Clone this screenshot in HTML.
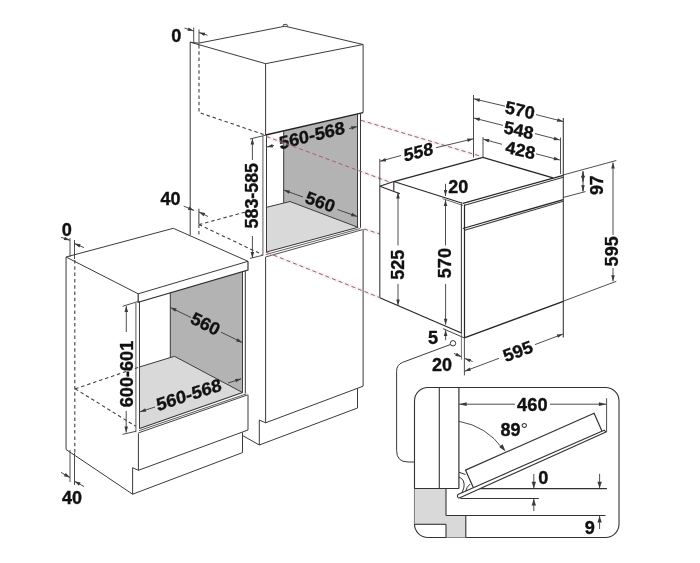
<!DOCTYPE html>
<html lang="en">
<head>
<meta charset="utf-8">
<title>Oven installation dimensions</title>
<style>
html,body{margin:0;padding:0;background:#fff;}
body{width:700px;height:563px;overflow:hidden;}
svg{display:block;will-change:transform;}
svg text{font-family:"Liberation Sans","DejaVu Sans",sans-serif;font-weight:bold;fill:#111;stroke:#111;stroke-width:0.35px;}
</style>
</head>
<body>
<svg width="700" height="563" viewBox="0 0 700 563">
<rect x="0" y="0" width="700" height="563" fill="#ffffff"/>
<path d="M283.7 131 L357.5 114 L357.5 227.1 L290 201.5 L283.7 203 Z" fill="#b3b3b3" stroke="none" stroke-width="1" />
<path d="M266.5 207.3 L290 201.5 L357.5 227.1 L358.2 227.3 L266.5 252 Z" fill="#d9d9d9" stroke="none" stroke-width="1" />
<path d="M190.2 42.2 L198.6 43.2 L285 26.2 L363.1 44.5" fill="none" stroke="#3a3a3a" stroke-width="1" />
<path d="M190.2 42.2 L265.6 63.7 L363.1 44.5" fill="none" stroke="#3a3a3a" stroke-width="1" />
<path d="M283 26 L283.4 24.6 L286.8 24.3 L287.6 26.4" fill="none" stroke="#3a3a3a" stroke-width="0.9"/>
<line x1="190.2" y1="42.2" x2="190.2" y2="235" stroke="#3a3a3a" stroke-width="1" />
<line x1="265.6" y1="63.7" x2="265.6" y2="135" stroke="#3a3a3a" stroke-width="1" />
<line x1="363.1" y1="44.5" x2="363.1" y2="112.6" stroke="#3a3a3a" stroke-width="1" />
<line x1="265.6" y1="135" x2="363.1" y2="112.6" stroke="#222" stroke-width="1.3" />
<line x1="262.9" y1="136" x2="262.9" y2="255.6" stroke="#777" stroke-width="1.2" />
<line x1="266.5" y1="135" x2="266.5" y2="252.5" stroke="#3a3a3a" stroke-width="1" />
<line x1="283.7" y1="131" x2="283.7" y2="203" stroke="#3a3a3a" stroke-width="1" />
<line x1="357.5" y1="114" x2="357.5" y2="227.1" stroke="#3a3a3a" stroke-width="1" />
<line x1="360.5" y1="113.2" x2="360.5" y2="227.7" stroke="#3a3a3a" stroke-width="1" />
<line x1="290" y1="201.5" x2="357.5" y2="227.1" stroke="#3a3a3a" stroke-width="1" />
<line x1="266.5" y1="207.3" x2="290" y2="201.5" stroke="#3a3a3a" stroke-width="1" />
<line x1="266.5" y1="252.0" x2="358.2" y2="227.3" stroke="#333" stroke-width="1.0" />
<line x1="266" y1="254.5" x2="360.3" y2="228.5" stroke="#444" stroke-width="0.85" />
<line x1="265.5" y1="257.0" x2="362.4" y2="229.7" stroke="#3a3a3a" stroke-width="0.9" />
<line x1="265.6" y1="257.1" x2="265.6" y2="422.8" stroke="#3a3a3a" stroke-width="1" />
<line x1="363.1" y1="229" x2="363.1" y2="386.2" stroke="#3a3a3a" stroke-width="1" />
<line x1="265.6" y1="422.8" x2="363.1" y2="386.2" stroke="#3a3a3a" stroke-width="1" />
<path d="M259.3 420 L265.6 422.8" fill="none" stroke="#3a3a3a" stroke-width="1" />
<path d="M259.3 420 L259.3 445 L357.5 408 L357.5 388.4" fill="none" stroke="#3a3a3a" stroke-width="1" />
<line x1="242.5" y1="435.5" x2="259.3" y2="445" stroke="#3a3a3a" stroke-width="1" />
<path d="M199 45 L199 112.5 L264 134.6" fill="none" stroke="#404040" stroke-width="1.1" stroke-dasharray="3.5 2.8"/>
<path d="M198.9 224.6 L198.9 235.5" fill="none" stroke="#404040" stroke-width="1.1" stroke-dasharray="3.5 2.8"/>
<path d="M199 224.6 L250 210.8" fill="none" stroke="#404040" stroke-width="1.1" stroke-dasharray="3.5 2.8"/>
<path d="M199 224.6 L262 254.5" fill="none" stroke="#404040" stroke-width="1.1" stroke-dasharray="3.5 2.8"/>
<line x1="193.7" y1="27.5" x2="193.7" y2="42.5" stroke="#3a3a3a" stroke-width="0.9" />
<line x1="199" y1="29.5" x2="199" y2="43.5" stroke="#3a3a3a" stroke-width="0.9" />
<line x1="184.5" y1="28" x2="193.7" y2="31" stroke="#3a3a3a" stroke-width="0.9" />
<path d="M193.7 31 L187.44 30.85 L188.55 27.43 Z" fill="#3a3a3a" stroke="none"/>
<line x1="207.5" y1="35.2" x2="199" y2="32.6" stroke="#3a3a3a" stroke-width="0.9" />
<path d="M199 32.6 L205.26 32.63 L204.21 36.08 Z" fill="#3a3a3a" stroke="none"/>
<text transform="translate(176.3 35.5)" x="0" y="6.3" font-size="17.6" text-anchor="middle" textLength="10.1" lengthAdjust="spacingAndGlyphs" >0</text>
<line x1="198.9" y1="208.7" x2="198.9" y2="224" stroke="#3a3a3a" stroke-width="1" />
<line x1="183.7" y1="206.1" x2="194" y2="210.4" stroke="#3a3a3a" stroke-width="0.9" />
<path d="M194 210.4 L187.77 209.75 L189.16 206.43 Z" fill="#3a3a3a" stroke="none"/>
<line x1="208" y1="216.5" x2="199" y2="212" stroke="#3a3a3a" stroke-width="0.9" />
<path d="M199 212 L205.17 213.07 L203.56 216.29 Z" fill="#3a3a3a" stroke="none"/>
<text transform="translate(170.4 198.6)" x="0" y="6.3" font-size="17.6" text-anchor="middle" textLength="20" lengthAdjust="spacingAndGlyphs" >40</text>
<line x1="249.9" y1="139" x2="265.6" y2="135.2" stroke="#3a3a3a" stroke-width="0.9" />
<line x1="250" y1="258.4" x2="263" y2="255.2" stroke="#3a3a3a" stroke-width="0.9" />
<line x1="252.4" y1="160" x2="252.4" y2="138.5" stroke="#3a3a3a" stroke-width="0.9" />
<path d="M252.4 138.5 L254.2 144.5 L250.6 144.5 Z" fill="#3a3a3a" stroke="none"/>
<line x1="252.4" y1="236" x2="252.4" y2="258" stroke="#3a3a3a" stroke-width="0.9" />
<path d="M252.4 258 L250.6 252.0 L254.2 252.0 Z" fill="#3a3a3a" stroke="none"/>
<text transform="translate(251.9 195.7) rotate(-90)" x="0" y="6.3" font-size="17.6" text-anchor="middle" textLength="65.5" lengthAdjust="spacingAndGlyphs" >583-585</text>
<line x1="274" y1="145.5" x2="266.8" y2="147" stroke="#3a3a3a" stroke-width="0.9" />
<path d="M266.8 147 L272.31 144.01 L273.04 147.54 Z" fill="#3a3a3a" stroke="none"/>
<line x1="349" y1="128.6" x2="357.2" y2="126.6" stroke="#3a3a3a" stroke-width="0.9" />
<path d="M357.2 126.6 L351.8 129.77 L350.94 126.27 Z" fill="#3a3a3a" stroke="none"/>
<text transform="translate(311.8 135.1) rotate(-14) skewX(-6)" x="0" y="6.3" font-size="17.6" text-anchor="middle" textLength="67.5" lengthAdjust="spacingAndGlyphs" >560-568</text>
<line x1="303" y1="197" x2="283.8" y2="190.1" stroke="#3a3a3a" stroke-width="0.9" />
<path d="M283.8 190.1 L290.06 190.44 L288.84 193.82 Z" fill="#3a3a3a" stroke="none"/>
<line x1="337.5" y1="209.5" x2="357.2" y2="216.5" stroke="#3a3a3a" stroke-width="0.9" />
<path d="M357.2 216.5 L350.94 216.19 L352.15 212.79 Z" fill="#3a3a3a" stroke="none"/>
<text transform="translate(320.4 201.7) rotate(20)" x="0" y="6.3" font-size="17.6" text-anchor="middle" textLength="30.2" lengthAdjust="spacingAndGlyphs" >560</text>
<path d="M170.3 292.6 L242.5 271.6 L242.5 392.5 L174.5 356.3 L170.3 357.5 Z" fill="#b3b3b3" stroke="none" stroke-width="1" />
<path d="M139.4 367 L174.5 356.3 L242.5 392.5 L139.6 428.5 Z" fill="#d9d9d9" stroke="none" stroke-width="1" />
<path d="M66.05 257 L173.3 228.3 L248 261.3 L138.2 293.8 Z" fill="none" stroke="#3a3a3a" stroke-width="1" />
<path d="M138.2 293.8 L138.2 302.2 L248 270 L248 261.3" fill="none" stroke="#2e2e2e" stroke-width="1.15" />
<line x1="66.05" y1="257" x2="66.05" y2="449.5" stroke="#3a3a3a" stroke-width="1" />
<line x1="135.9" y1="303" x2="135.9" y2="432.2" stroke="#666" stroke-width="1.1" />
<line x1="139.5" y1="301.6" x2="139.5" y2="428.8" stroke="#3a3a3a" stroke-width="1" />
<line x1="170.3" y1="292.6" x2="170.3" y2="357.5" stroke="#3a3a3a" stroke-width="1" />
<line x1="242.5" y1="271.6" x2="242.5" y2="392.5" stroke="#3a3a3a" stroke-width="1" />
<line x1="245.3" y1="271" x2="245.3" y2="393.5" stroke="#3a3a3a" stroke-width="1" />
<line x1="174.5" y1="356.3" x2="242.5" y2="392.5" stroke="#3a3a3a" stroke-width="1" />
<line x1="139.4" y1="367" x2="174.5" y2="356.3" stroke="#3a3a3a" stroke-width="1" />
<line x1="139.6" y1="428.5" x2="242.6" y2="392.6" stroke="#333" stroke-width="1.05" />
<line x1="139" y1="430.7" x2="246.3" y2="393.9" stroke="#4a4a4a" stroke-width="0.9" />
<line x1="138.4" y1="432.9" x2="247.7" y2="394.9" stroke="#3a3a3a" stroke-width="0.95" />
<line x1="138.4" y1="433.4" x2="138.4" y2="470.3" stroke="#3a3a3a" stroke-width="1" />
<line x1="248" y1="394.8" x2="248" y2="430" stroke="#3a3a3a" stroke-width="1" />
<line x1="138.4" y1="470.3" x2="248" y2="430" stroke="#3a3a3a" stroke-width="1" />
<path d="M138.4 470.3 L132.6 467.7 L132.6 494.2 L242.5 452.6 L242.5 432.5" fill="none" stroke="#3a3a3a" stroke-width="1" />
<line x1="66.05" y1="449.5" x2="132.6" y2="494.2" stroke="#3a3a3a" stroke-width="1" />
<path d="M74.8 260 L74.8 452.5" fill="none" stroke="#404040" stroke-width="1.1" stroke-dasharray="3.5 2.8"/>
<path d="M75.2 388.8 L139.4 367" fill="none" stroke="#404040" stroke-width="1.1" stroke-dasharray="3.5 2.8"/>
<path d="M75.2 388.8 L135.8 426.3" fill="none" stroke="#404040" stroke-width="1.1" stroke-dasharray="3.5 2.8"/>
<line x1="70" y1="238" x2="70" y2="257" stroke="#3a3a3a" stroke-width="0.9" />
<line x1="74.5" y1="240" x2="74.5" y2="259" stroke="#3a3a3a" stroke-width="0.9" />
<line x1="61" y1="237.3" x2="70" y2="240.3" stroke="#3a3a3a" stroke-width="0.9" />
<path d="M70 240.3 L63.74 240.11 L64.88 236.7 Z" fill="#3a3a3a" stroke="none"/>
<line x1="84" y1="247.6" x2="74.5" y2="243.6" stroke="#3a3a3a" stroke-width="0.9" />
<path d="M74.5 243.6 L80.73 244.27 L79.33 247.59 Z" fill="#3a3a3a" stroke="none"/>
<text transform="translate(66.8 230)" x="0" y="6.3" font-size="17.6" text-anchor="middle" textLength="10.1" lengthAdjust="spacingAndGlyphs" >0</text>
<line x1="70" y1="450" x2="70" y2="482" stroke="#3a3a3a" stroke-width="0.9" />
<line x1="74.5" y1="453" x2="74.5" y2="485" stroke="#3a3a3a" stroke-width="0.9" />
<line x1="61" y1="472.4" x2="70" y2="477.6" stroke="#3a3a3a" stroke-width="0.9" />
<path d="M70 477.6 L63.9 476.16 L65.71 473.04 Z" fill="#3a3a3a" stroke="none"/>
<line x1="84" y1="486.5" x2="74.5" y2="481.3" stroke="#3a3a3a" stroke-width="0.9" />
<path d="M74.5 481.3 L80.63 482.6 L78.9 485.76 Z" fill="#3a3a3a" stroke="none"/>
<text transform="translate(72 497.5)" x="0" y="6.3" font-size="17.6" text-anchor="middle" textLength="20" lengthAdjust="spacingAndGlyphs" >40</text>
<line x1="122.5" y1="306.3" x2="138.8" y2="301.3" stroke="#3a3a3a" stroke-width="0.9" />
<line x1="122.5" y1="434.4" x2="135.9" y2="431.3" stroke="#3a3a3a" stroke-width="0.9" />
<line x1="126.3" y1="332" x2="126.3" y2="306" stroke="#3a3a3a" stroke-width="0.9" />
<path d="M126.3 306 L128.1 312.0 L124.5 312.0 Z" fill="#3a3a3a" stroke="none"/>
<line x1="126.2" y1="411" x2="126.2" y2="432.6" stroke="#3a3a3a" stroke-width="0.9" />
<path d="M126.2 432.6 L124.4 426.6 L128.0 426.6 Z" fill="#3a3a3a" stroke="none"/>
<text transform="translate(127 374) rotate(-90)" x="0" y="6.3" font-size="17.6" text-anchor="middle" textLength="66.5" lengthAdjust="spacingAndGlyphs" >600-601</text>
<line x1="191" y1="317.5" x2="170.5" y2="307.6" stroke="#3a3a3a" stroke-width="0.9" />
<path d="M170.5 307.6 L176.69 308.59 L175.12 311.83 Z" fill="#3a3a3a" stroke="none"/>
<line x1="221" y1="332.2" x2="242.3" y2="342.5" stroke="#3a3a3a" stroke-width="0.9" />
<path d="M242.3 342.5 L236.11 341.51 L237.68 338.27 Z" fill="#3a3a3a" stroke="none"/>
<text transform="translate(205.6 323.6) rotate(26.5)" x="0" y="6.3" font-size="17.6" text-anchor="middle" textLength="30.2" lengthAdjust="spacingAndGlyphs" >560</text>
<line x1="155" y1="407" x2="140" y2="411.8" stroke="#3a3a3a" stroke-width="0.9" />
<path d="M140 411.8 L145.17 408.26 L146.26 411.69 Z" fill="#3a3a3a" stroke="none"/>
<line x1="228" y1="383" x2="241.3" y2="378.8" stroke="#3a3a3a" stroke-width="0.9" />
<path d="M241.3 378.8 L236.12 382.32 L235.04 378.89 Z" fill="#3a3a3a" stroke="none"/>
<text transform="translate(188.8 394.5) rotate(-18) skewX(-7)" x="0" y="6.3" font-size="17.6" text-anchor="middle" textLength="68" lengthAdjust="spacingAndGlyphs" >560-568</text>
<line x1="266.5" y1="136.5" x2="391" y2="182.6" stroke="#e8a0a8" stroke-opacity="0.16" stroke-width="3.6"/>
<line x1="266.5" y1="136.5" x2="391" y2="182.6" stroke="#886a6e" stroke-width="1" stroke-dasharray="4 3"/>
<line x1="361" y1="120.3" x2="480.5" y2="156.2" stroke="#e8a0a8" stroke-opacity="0.16" stroke-width="3.6"/>
<line x1="361" y1="120.3" x2="480.5" y2="156.2" stroke="#886a6e" stroke-width="1" stroke-dasharray="4 3"/>
<line x1="267" y1="252.5" x2="379.5" y2="297.5" stroke="#e8a0a8" stroke-opacity="0.16" stroke-width="3.6"/>
<line x1="267" y1="252.5" x2="379.5" y2="297.5" stroke="#886a6e" stroke-width="1" stroke-dasharray="4 3"/>
<line x1="364" y1="229" x2="380" y2="234" stroke="#e8a0a8" stroke-opacity="0.16" stroke-width="3.6"/>
<line x1="364" y1="229" x2="380" y2="234" stroke="#886a6e" stroke-width="1" stroke-dasharray="4 3"/>
<line x1="379.8" y1="186.3" x2="379.8" y2="297.5" stroke="#3a3a3a" stroke-width="1.1" />
<line x1="379.8" y1="186.3" x2="393.8" y2="181.6" stroke="#262626" stroke-width="1.1" />
<line x1="379.8" y1="186.3" x2="400" y2="193.8" stroke="#262626" stroke-width="1.1" />
<line x1="393.8" y1="181.3" x2="393.8" y2="190.8" stroke="#262626" stroke-width="1.1" />
<line x1="393.8" y1="181.6" x2="482.9" y2="157.4" stroke="#262626" stroke-width="1.3" />
<line x1="482.9" y1="157.4" x2="553" y2="177.9" stroke="#262626" stroke-width="1.3" />
<line x1="393.8" y1="181.6" x2="462.5" y2="203.2" stroke="#262626" stroke-width="1.1" />
<line x1="442.5" y1="198.6" x2="463" y2="205.4" stroke="#555" stroke-width="0.9" />
<line x1="379.8" y1="297.8" x2="461.4" y2="333" stroke="#262626" stroke-width="1.2" />
<line x1="442.9" y1="328.6" x2="464.3" y2="337.9" stroke="#444" stroke-width="1" />
<line x1="461.4" y1="203.5" x2="461.4" y2="333" stroke="#444" stroke-width="1.1" />
<line x1="461.4" y1="333" x2="461.4" y2="359.7" stroke="#555" stroke-width="0.8" />
<line x1="464.5" y1="204.5" x2="464.5" y2="337.9" stroke="#262626" stroke-width="1.2" />
<line x1="462.9" y1="203.3" x2="563.3" y2="175.3" stroke="#262626" stroke-width="1.2" />
<line x1="464.6" y1="205.3" x2="563.3" y2="177.3" stroke="#3a3a3a" stroke-width="1.1" />
<line x1="462.9" y1="228.5" x2="563.3" y2="199.6" stroke="#262626" stroke-width="1.3" />
<line x1="464.6" y1="230.3" x2="563.3" y2="201.2" stroke="#3a3a3a" stroke-width="1.1" />
<line x1="563.3" y1="118" x2="563.3" y2="337.5" stroke="#3a3a3a" stroke-width="1.1" />
<line x1="464.3" y1="337.9" x2="563.3" y2="301.3" stroke="#262626" stroke-width="1.4" />
<line x1="473.5" y1="95" x2="473.5" y2="157.5" stroke="#3a3a3a" stroke-width="0.9" />
<line x1="483" y1="137" x2="483" y2="157" stroke="#3a3a3a" stroke-width="0.9" />
<line x1="560.5" y1="137.5" x2="560.5" y2="174" stroke="#3a3a3a" stroke-width="0.9" />
<line x1="505" y1="106.2" x2="473.8" y2="98.8" stroke="#3a3a3a" stroke-width="0.9" />
<path d="M473.8 98.8 L480.05 98.43 L479.22 101.94 Z" fill="#3a3a3a" stroke="none"/>
<line x1="536" y1="114.6" x2="563.2" y2="121.5" stroke="#3a3a3a" stroke-width="0.9" />
<path d="M563.2 121.5 L556.94 121.77 L557.83 118.28 Z" fill="#3a3a3a" stroke="none"/>
<text transform="translate(520 110) rotate(13) skewX(3)" x="0" y="6.3" font-size="17.6" text-anchor="middle" textLength="30.2" lengthAdjust="spacingAndGlyphs" >570</text>
<line x1="503" y1="125.4" x2="473.8" y2="118" stroke="#3a3a3a" stroke-width="0.9" />
<path d="M473.8 118 L480.06 117.73 L479.17 121.22 Z" fill="#3a3a3a" stroke="none"/>
<line x1="535" y1="133.6" x2="559.8" y2="140" stroke="#3a3a3a" stroke-width="0.9" />
<path d="M559.8 140 L553.54 140.24 L554.44 136.76 Z" fill="#3a3a3a" stroke="none"/>
<text transform="translate(518.8 130) rotate(13) skewX(3)" x="0" y="6.3" font-size="17.6" text-anchor="middle" textLength="30.2" lengthAdjust="spacingAndGlyphs" >548</text>
<line x1="502" y1="144.3" x2="483.2" y2="139.2" stroke="#3a3a3a" stroke-width="0.9" />
<path d="M483.2 139.2 L489.46 139.03 L488.52 142.51 Z" fill="#3a3a3a" stroke="none"/>
<line x1="536" y1="153.8" x2="559.8" y2="160" stroke="#3a3a3a" stroke-width="0.9" />
<path d="M559.8 160 L553.54 160.23 L554.45 156.75 Z" fill="#3a3a3a" stroke="none"/>
<text transform="translate(520.5 150) rotate(13) skewX(3)" x="0" y="6.3" font-size="17.6" text-anchor="middle" textLength="30.2" lengthAdjust="spacingAndGlyphs" >428</text>
<line x1="379.8" y1="158.8" x2="379.8" y2="186" stroke="#3a3a3a" stroke-width="0.9" />
<line x1="401" y1="155.5" x2="380" y2="161.3" stroke="#3a3a3a" stroke-width="0.9" />
<path d="M380 161.3 L385.3 157.97 L386.26 161.44 Z" fill="#3a3a3a" stroke="none"/>
<line x1="436" y1="147.7" x2="473.3" y2="138.8" stroke="#3a3a3a" stroke-width="0.9" />
<path d="M473.3 138.8 L467.88 141.94 L467.05 138.44 Z" fill="#3a3a3a" stroke="none"/>
<text transform="translate(418.5 151.6) rotate(-14) skewX(-10)" x="0" y="6.3" font-size="17.6" text-anchor="middle" textLength="30.2" lengthAdjust="spacingAndGlyphs" >558</text>
<line x1="445.5" y1="183.8" x2="445.5" y2="196" stroke="#3a3a3a" stroke-width="0.9" />
<path d="M445.5 196 L443.7 190.0 L447.3 190.0 Z" fill="#3a3a3a" stroke="none"/>
<line x1="445.5" y1="212" x2="445.5" y2="200" stroke="#3a3a3a" stroke-width="0.9" />
<path d="M445.5 200 L447.3 206.0 L443.7 206.0 Z" fill="#3a3a3a" stroke="none"/>
<text transform="translate(458.3 186.3)" x="0" y="6.3" font-size="17.6" text-anchor="middle" textLength="20" lengthAdjust="spacingAndGlyphs" >20</text>
<line x1="398" y1="245.4" x2="398" y2="192.5" stroke="#3a3a3a" stroke-width="0.9" />
<path d="M398 192.5 L399.8 198.5 L396.2 198.5 Z" fill="#3a3a3a" stroke="none"/>
<line x1="398" y1="283.9" x2="398" y2="305.5" stroke="#3a3a3a" stroke-width="0.9" />
<path d="M398 305.5 L396.2 299.5 L399.8 299.5 Z" fill="#3a3a3a" stroke="none"/>
<text transform="translate(397.8 264.7) rotate(-90)" x="0" y="6.3" font-size="17.6" text-anchor="middle" textLength="30.2" lengthAdjust="spacingAndGlyphs" >525</text>
<line x1="445.5" y1="212" x2="445.5" y2="245.4" stroke="#3a3a3a" stroke-width="0.9" />
<line x1="445.6" y1="283.9" x2="445.6" y2="324.8" stroke="#3a3a3a" stroke-width="0.9" />
<path d="M445.6 324.8 L443.8 318.8 L447.4 318.8 Z" fill="#3a3a3a" stroke="none"/>
<text transform="translate(445.1 263.1) rotate(-90)" x="0" y="6.3" font-size="17.6" text-anchor="middle" textLength="30.2" lengthAdjust="spacingAndGlyphs" >570</text>
<line x1="563" y1="175" x2="616.3" y2="160.5" stroke="#3a3a3a" stroke-width="0.9" />
<line x1="563" y1="197.5" x2="585.5" y2="191.6" stroke="#3a3a3a" stroke-width="0.9" />
<line x1="583" y1="182" x2="583" y2="171.3" stroke="#3a3a3a" stroke-width="0.9" />
<path d="M583 171.3 L584.8 177.3 L581.2 177.3 Z" fill="#3a3a3a" stroke="none"/>
<path d="M583 182 L584.8 176.0 L581.2 176.0 Z" fill="#3a3a3a" stroke="none"/>
<line x1="583" y1="171.3" x2="583" y2="191.3" stroke="#3a3a3a" stroke-width="0.9" />
<line x1="583" y1="185" x2="583" y2="191.3" stroke="#3a3a3a" stroke-width="0.9" />
<path d="M583 191.3 L581.2 185.3 L584.8 185.3 Z" fill="#3a3a3a" stroke="none"/>
<text transform="translate(596.3 185.2) rotate(-90)" x="0" y="6.3" font-size="17.6" text-anchor="middle" textLength="19.8" lengthAdjust="spacingAndGlyphs" >97</text>
<line x1="563" y1="301.3" x2="616.3" y2="281.3" stroke="#3a3a3a" stroke-width="0.9" />
<line x1="613" y1="235" x2="613" y2="162.5" stroke="#3a3a3a" stroke-width="0.9" />
<path d="M613 162.5 L614.8 168.5 L611.2 168.5 Z" fill="#3a3a3a" stroke="none"/>
<line x1="613" y1="268" x2="613" y2="281.3" stroke="#3a3a3a" stroke-width="0.9" />
<path d="M613 281.3 L611.2 275.3 L614.8 275.3 Z" fill="#3a3a3a" stroke="none"/>
<text transform="translate(611.3 251.3) rotate(-90)" x="0" y="6.3" font-size="17.6" text-anchor="middle" textLength="30.2" lengthAdjust="spacingAndGlyphs" >595</text>
<line x1="464.4" y1="337.9" x2="464.4" y2="375.4" stroke="#3a3a3a" stroke-width="0.9" />
<line x1="499" y1="358.3" x2="464.7" y2="371.2" stroke="#3a3a3a" stroke-width="0.9" />
<path d="M464.7 371.2 L469.68 367.4 L470.95 370.77 Z" fill="#3a3a3a" stroke="none"/>
<line x1="535" y1="344.6" x2="563" y2="334" stroke="#3a3a3a" stroke-width="0.9" />
<path d="M563 334 L558.03 337.81 L556.75 334.44 Z" fill="#3a3a3a" stroke="none"/>
<text transform="translate(517.7 351) rotate(-20.5)" x="0" y="6.3" font-size="17.6" text-anchor="middle" textLength="30.2" lengthAdjust="spacingAndGlyphs" >595</text>
<line x1="445.6" y1="340.2" x2="445.6" y2="330.1" stroke="#3a3a3a" stroke-width="0.9" />
<path d="M445.6 330.1 L447.4 336.1 L443.8 336.1 Z" fill="#3a3a3a" stroke="none"/>
<text transform="translate(433 337.3)" x="0" y="6.3" font-size="17.6" text-anchor="middle" textLength="10.1" lengthAdjust="spacingAndGlyphs" >5</text>
<line x1="454" y1="353.4" x2="461.5" y2="356.8" stroke="#3a3a3a" stroke-width="0.9" />
<path d="M461.5 356.8 L455.29 355.96 L456.78 352.68 Z" fill="#3a3a3a" stroke="none"/>
<line x1="472.6" y1="361.5" x2="464.7" y2="358.4" stroke="#3a3a3a" stroke-width="0.9" />
<path d="M464.7 358.4 L470.94 358.92 L469.63 362.27 Z" fill="#3a3a3a" stroke="none"/>
<text transform="translate(442 365)" x="0" y="6.3" font-size="17.6" text-anchor="middle" textLength="20" lengthAdjust="spacingAndGlyphs" >20</text>
<circle cx="453" cy="343.3" r="2.7" fill="#fff" stroke="#3a3a3a" stroke-width="1"/>
<path d="M450.5 344.5 L402.5 362.4 Q396.6 364.8 396.6 371.2 L396.6 450.5 Q396.6 462 408 462 L414.5 462" fill="none" stroke="#3a3a3a" stroke-width="1"/>
<rect x="414.5" y="387.5" width="204.5" height="150" rx="13.5" ry="13.5" fill="#fff" stroke="#333" stroke-width="1.1"/>
<path d="M414.5 488.5 L446 488.5 L446 515.4 L465.8 515.4 L465.8 537.5 L446 537.5 L446 524.3 L414.5 524.3 Z" fill="#d9d9d9" stroke="none" stroke-width="1" />
<line x1="439.3" y1="387.5" x2="439.3" y2="488.5" stroke="#333" stroke-width="1.1" />
<line x1="458.9" y1="387.5" x2="458.9" y2="488.5" stroke="#333" stroke-width="1.2" />
<line x1="414.5" y1="488.5" x2="458.9" y2="488.5" stroke="#333" stroke-width="1.05" />
<line x1="446" y1="488.5" x2="446" y2="515.4" stroke="#333" stroke-width="1.1" />
<line x1="446" y1="515.4" x2="605.5" y2="515.4" stroke="#333" stroke-width="1.05" />
<line x1="465.8" y1="515.4" x2="465.8" y2="537.5" stroke="#333" stroke-width="1.1" />
<line x1="446" y1="524.3" x2="446" y2="537.5" stroke="#333" stroke-width="1.1" />
<line x1="414.5" y1="524.3" x2="446" y2="524.3" stroke="#333" stroke-width="1.1" />
<line x1="475.2" y1="488.6" x2="607" y2="488.6" stroke="#333" stroke-width="1.05" />
<line x1="460.5" y1="498.4" x2="538.8" y2="498.4" stroke="#333" stroke-width="1.05" />
<path d="M473.3 487.4 L465.5 470.1 L594.1 413.3 L601.8 430.7" fill="#fff" stroke="#333" stroke-width="1.2" />
<path d="M604.1 430.2 L459 494 Q456.6 495.3 457.8 497.2 Q458.8 498.6 461 497.2 L606 432.1 Z" fill="#fff" stroke="#333" stroke-width="1.1" stroke-linejoin="round"/>
<path d="M458.9 472.2 L465.5 474.5 M458.9 477 Q465.5 479.5 463.8 488 L462 492.5 M470.2 484 Q466.5 487 465.7 491" fill="none" stroke="#333" stroke-width="1"/>
<path d="M458.9 421.3 A 69 69 0 0 1 503 449" fill="none" stroke="#3a3a3a" stroke-width="0.9"/>
<path d="M505.6 451.4 L499.17 446.96 L502.58 444.19 Z" fill="#3a3a3a" stroke="none"/>
<text transform="translate(510.4 429.3)" x="0" y="6.3" font-size="17.6" text-anchor="middle" textLength="20" lengthAdjust="spacingAndGlyphs" >89</text>
<text x="524.4" y="436.2" font-size="19" text-anchor="middle" style="font-weight:normal;stroke:none;fill:#333">°</text>
<line x1="606.6" y1="398.2" x2="606.6" y2="432.1" stroke="#3a3a3a" stroke-width="0.9" />
<line x1="515" y1="404.2" x2="459.2" y2="404.2" stroke="#3a3a3a" stroke-width="0.9" />
<path d="M459.2 404.2 L466.7 402.3 L466.7 406.1 Z" fill="#3a3a3a" stroke="none"/>
<line x1="550" y1="404.2" x2="606.4" y2="404.2" stroke="#3a3a3a" stroke-width="0.9" />
<path d="M606.4 404.2 L598.9 406.1 L598.9 402.3 Z" fill="#3a3a3a" stroke="none"/>
<text transform="translate(532.3 405)" x="0" y="6.3" font-size="17.6" text-anchor="middle" textLength="30.4" lengthAdjust="spacingAndGlyphs" >460</text>
<line x1="533.8" y1="474" x2="533.8" y2="488.2" stroke="#3a3a3a" stroke-width="0.9" />
<path d="M533.8 488.2 L531.6 481.7 L536.0 481.7 Z" fill="#3a3a3a" stroke="none"/>
<line x1="533.8" y1="511" x2="533.8" y2="499" stroke="#3a3a3a" stroke-width="0.9" />
<path d="M533.8 499 L536.0 505.5 L531.6 505.5 Z" fill="#3a3a3a" stroke="none"/>
<text transform="translate(543.2 477.6)" x="0" y="6.3" font-size="17.6" text-anchor="middle" textLength="10.1" lengthAdjust="spacingAndGlyphs" >0</text>
<line x1="599.6" y1="473.8" x2="599.6" y2="488.2" stroke="#3a3a3a" stroke-width="0.9" />
<path d="M599.6 488.2 L597.4 481.7 L601.8 481.7 Z" fill="#3a3a3a" stroke="none"/>
<line x1="599.6" y1="529" x2="599.6" y2="516" stroke="#3a3a3a" stroke-width="0.9" />
<path d="M599.6 516 L601.8 522.5 L597.4 522.5 Z" fill="#3a3a3a" stroke="none"/>
<text transform="translate(589.7 527.5)" x="0" y="6.3" font-size="17.6" text-anchor="middle" textLength="10.1" lengthAdjust="spacingAndGlyphs" >9</text>
</svg>
</body>
</html>
